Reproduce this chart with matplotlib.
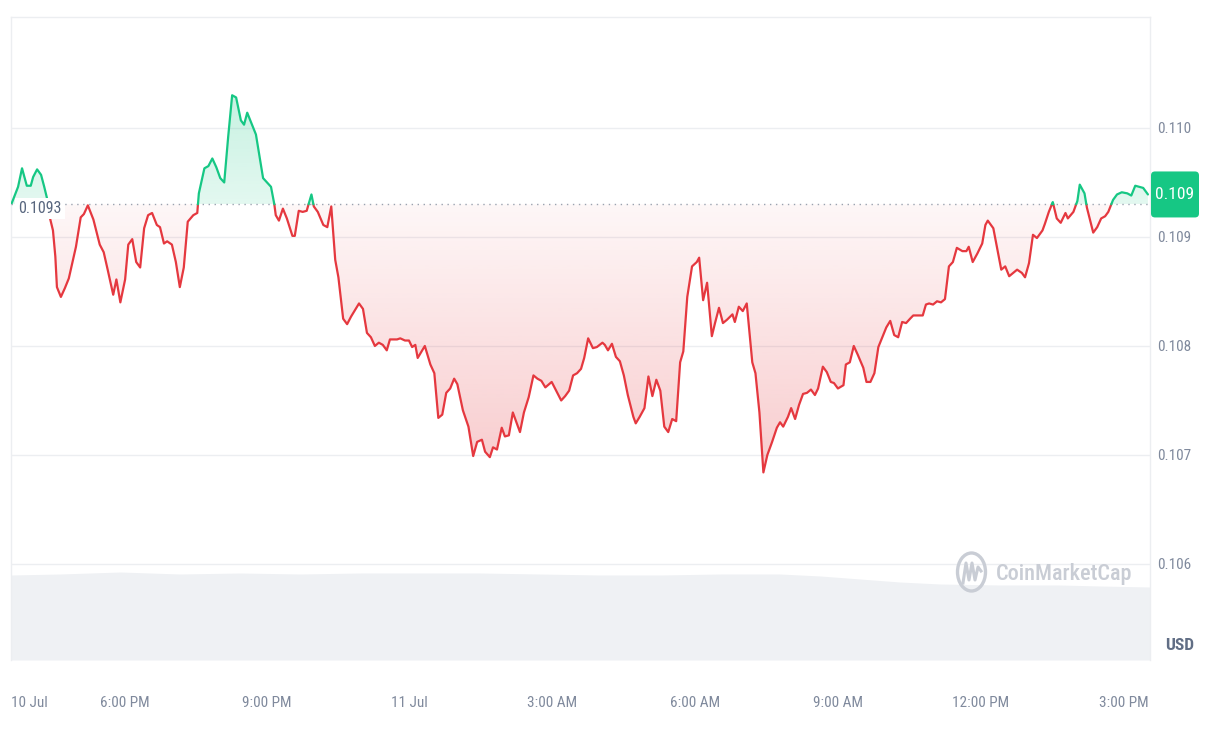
import numpy as np
import matplotlib
matplotlib.use('Agg')
import matplotlib.pyplot as plt
from matplotlib.patches import FancyBboxPatch, PathPatch, Ellipse
from matplotlib.transforms import blended_transform_factory, IdentityTransform
from matplotlib.lines import Line2D
import matplotlib.colors as mcolors

FONT = ['Roboto Condensed', 'Inter', 'DejaVu Sans']
plt.rcParams['font.family'] = FONT

# ---------------- data ----------------
# minutes since 10 Jul 00:00
minutes = [938,946,951,957,962,965,970,975,979,983,
           986,990,993,995,1000,1005,1010,1019,1025,1029,
           1034,1041,1049,1054,1059,1066,1070,1075,1081,1085,
           1090,1095,1100,1105,1110,1115,1121,1125,1130,1134,
           1140,1145,1150,1155,1160,1167,1172,1174,1181,1186,
           1191,1196,1201,1206,1211,1216,1221,1227,1231,1235,
           1241,1246,1255,1260,1265,1269,1271,1275,1280,1285,
           1292,1295,1300,1305,1310,1316,1319,1324,1331,1336,
           1341,1346,1350,1356,1361,1366,1371,1376,1381,1386,
           1391,1396,1401,1406,1411,1415,1424,1428,1434,1439,
           1443,1447,1450,1459,1466,1471,1476,1481,1486,1491,
           1496,1500,1507,1514,1520,1525,1531,1535,1541,1545,
           1550,1556,1560,1565,1570,1579,1584,1590,1596,1601,
           1606,1611,1619,1626,1631,1636,1641,1646,1651,1656,
           1660,1665,1671,1676,1683,1686,1690,1695,1700,1705,
           1710,1715,1722,1725,1730,1736,1741,1746,1751,1756,
           1761,1766,1771,1776,1781,1785,1790,1796,1802,1805,
           1810,1815,1821,1825,1830,1835,1840,1847,1850,1855,
           1860,1865,1872,1876,1881,1886,1891,1897,1903,1907,
           1911,1917,1921,1926,1931,1936,1941,1946,1951,1955,
           1961,1966,1971,1975,1980,1987,1990,1995,2000,2005,
           2012,2016,2021,2026,2031,2036,2041,2046,2051,2056,
           2061,2066,2071,2075,2081,2087,2091,2095,2100,2105,
           2110,2115,2120,2125,2130,2137,2142,2145,2150,2156,
           2162,2166,2169,2176,2180,2186,2191,2196,2201,2206,
           2212,2216,2221,2226,2231,2238,2241,2246,2251,2256,
           2261,2267,2270,2277,2282,2285,2291,2294,2302,2307,
           2312,2317,2321,2327,2332,2338,2345,2350,2355,2360,
           2365,2371]

prices = [0.10931,0.10946,0.10963,0.10947,0.10947,0.10955,0.10962,0.10957,0.10946,0.10934,
          0.10918,0.10906,0.10882,0.10854,0.10845,0.10853,0.10862,0.10891,0.10918,0.10921,
          0.10929,0.10916,0.10893,0.10886,0.10870,0.10847,0.10861,0.10840,0.10861,0.10893,
          0.10898,0.10877,0.10872,0.10908,0.10920,0.10922,0.10911,0.10909,0.10894,0.10896,
          0.10893,0.10877,0.10854,0.10872,0.10914,0.10920,0.10922,0.10940,0.10963,0.10965,
          0.10972,0.10964,0.10954,0.10950,0.10992,0.11030,0.11028,0.11007,0.11003,0.11014,
          0.11003,0.10994,0.10954,0.10950,0.10946,0.10931,0.10920,0.10915,0.10926,0.10917,
          0.10901,0.10901,0.10924,0.10923,0.10924,0.10939,0.10928,0.10923,0.10911,0.10909,
          0.10928,0.10879,0.10863,0.10825,0.10820,0.10827,0.10833,0.10839,0.10834,0.10812,
          0.10808,0.10800,0.10803,0.10801,0.10796,0.10806,0.10806,0.10807,0.10805,0.10805,
          0.10799,0.10801,0.10789,0.10800,0.10783,0.10775,0.10734,0.10737,0.10757,0.10761,
          0.10770,0.10765,0.10741,0.10726,0.10699,0.10712,0.10714,0.10703,0.10698,0.10707,
          0.10705,0.10725,0.10717,0.10718,0.10739,0.10721,0.10739,0.10753,0.10773,0.10770,
          0.10768,0.10762,0.10767,0.10757,0.10750,0.10754,0.10759,0.10773,0.10775,0.10779,
          0.10789,0.10807,0.10798,0.10799,0.10803,0.10801,0.10796,0.10802,0.10790,0.10786,
          0.10773,0.10755,0.10735,0.10729,0.10735,0.10743,0.10772,0.10754,0.10769,0.10759,
          0.10726,0.10721,0.10733,0.10731,0.10785,0.10795,0.10845,0.10873,0.10877,0.10881,
          0.10842,0.10858,0.10809,0.10821,0.10835,0.10821,0.10824,0.10829,0.10822,0.10836,
          0.10832,0.10839,0.10785,0.10775,0.10739,0.10684,0.10700,0.10712,0.10725,0.10730,
          0.10726,0.10735,0.10743,0.10733,0.10746,0.10756,0.10757,0.10760,0.10755,0.10761,
          0.10781,0.10776,0.10767,0.10766,0.10761,0.10764,0.10783,0.10785,0.10800,0.10792,
          0.10780,0.10767,0.10767,0.10775,0.10799,0.10808,0.10817,0.10823,0.10810,0.10808,
          0.10822,0.10821,0.10825,0.10828,0.10828,0.10828,0.10838,0.10839,0.10838,0.10841,
          0.10840,0.10843,0.10873,0.10877,0.10890,0.10887,0.10887,0.10891,0.10877,0.10885,
          0.10894,0.10911,0.10915,0.10908,0.10893,0.10870,0.10873,0.10864,0.10867,0.10870,
          0.10867,0.10863,0.10876,0.10902,0.10899,0.10906,0.10912,0.10923,0.10932,0.10917,
          0.10913,0.10922,0.10917,0.10923,0.10933,0.10948,0.10940,0.10927,0.10904,0.10909,
          0.10917,0.10919,0.10923,0.10934,0.10939,0.10941,0.10940,0.10938,0.10947,0.10946,
          0.10945,0.10939]

baseline_price = 0.1093
baseline_label = "0.1093"
last_label = "0.109"

vol_minutes = [937,999,1075,1150,1226,1302,1377,1453,1529,1604,1680,
               1756,1831,1907,1958,2008,2058,2109,2185,2260,2311,2374]
volume = [8.5,8.6,8.8,8.6,8.7,8.6,8.7,8.7,8.7,8.6,8.5,
          8.5,8.6,8.6,8.4,8.1,7.8,7.6,7.5,7.5,7.4,7.3]

xtick_hours = [16, 18, 21, 24, 27, 30, 33, 36, 39]
xtick_labels = ['10 Jul', '6:00 PM', '9:00 PM', '11 Jul', '3:00 AM',
                '6:00 AM', '9:00 AM', '12:00 PM', '3:00 PM']
ytick_values = [0.106, 0.107, 0.108, 0.109, 0.110]
ytick_labels = ['0.106', '0.107', '0.108', '0.109', '0.110']

# ---------------- style ----------------
RED = '#e5383f'
GREEN = '#16c784'
GRID = '#eceef1'
TXT = '#808a9d'

W, H = 1220, 740
L, R, T, B = 11, 1150, 17, 660
fig = plt.figure(figsize=(W / 100, H / 100), dpi=100)
fig.patch.set_facecolor('white')
rect = [L / W, 1 - B / H, (R - L) / W, (B - T) / H]

t = np.array(minutes) / 60.0
p = np.array(prices)
xlim = (15.618, 39.56)
ylim = (0.105119, 0.111018)

# volume axes (behind)
axv = fig.add_axes(rect, zorder=1)
axv.fill_between(np.array(vol_minutes) / 60.0, 0, volume, color='#eff1f4', lw=0)
axv.set_xlim(*xlim)
axv.set_ylim(0, 64.3)
axv.axis('off')

ax = fig.add_axes(rect, zorder=2)
ax.patch.set_visible(False)
ax.set_xlim(*xlim)
ax.set_ylim(*ylim)

# split series at baseline crossings
tt, pp = [t[0]], [p[0]]
for i in range(1, len(t)):
    a, b = p[i - 1] - baseline_price, p[i] - baseline_price
    if a * b < 0:
        f = a / (a - b)
        tt.append(t[i - 1] + f * (t[i] - t[i - 1]))
        pp.append(baseline_price)
    tt.append(t[i])
    pp.append(p[i])
tt = np.array(tt)
pp = np.array(pp)


def grad_fill(lo, hi, color, a_near, a_far, near_val, far_val, ymin, ymax):
    coll = ax.fill_between(tt, lo, hi, facecolor='none', edgecolor='none')
    path = coll.get_paths()[0]
    patch = PathPatch(path, transform=ax.transData, facecolor='none', edgecolor='none')
    ax.add_patch(patch)
    n = 256
    vals = np.linspace(ymin, ymax, n)
    frac = np.clip((vals - near_val) / (far_val - near_val), 0, 1)
    alpha = a_near + (a_far - a_near) * frac
    img = np.zeros((n, 1, 4))
    img[..., :3] = mcolors.to_rgb(color)
    img[..., 3] = alpha[:, None]
    im = ax.imshow(img, extent=[tt[0], tt[-1], ymin, ymax], origin='lower',
                   aspect='auto', interpolation='bilinear', zorder=1)
    im.set_clip_path(patch)


grad_fill(np.full_like(pp, baseline_price), np.minimum(pp, baseline_price), RED,
          0.04, 0.26, baseline_price, pp.min(), pp.min(), baseline_price)
grad_fill(np.full_like(pp, baseline_price), np.maximum(pp, baseline_price), GREEN,
          0.12, 0.24, baseline_price, pp.max(), baseline_price, pp.max())
ax.set_xlim(*xlim)
ax.set_ylim(*ylim)

# grid
for v in ytick_values:
    ax.axhline(v, color=GRID, lw=1, zorder=0)
for s in ['top', 'left', 'right']:
    ax.spines[s].set_color(GRID)
    ax.spines[s].set_linewidth(1)
ax.spines['bottom'].set_visible(False)

# baseline
ax.axhline(baseline_price, color='#9aa3b0', lw=1, ls=(0, (1, 3.3)), zorder=3)

# price line
ax.plot(tt, np.where(pp <= baseline_price, pp, np.nan), color=RED, lw=1.6,
        zorder=4, solid_joinstyle='round', solid_capstyle='round')
ax.plot(tt, np.where(pp >= baseline_price, pp, np.nan), color=GREEN, lw=1.6,
        zorder=4, solid_joinstyle='round', solid_capstyle='round')

# ticks
ax.yaxis.tick_right()
ax.set_yticks(ytick_values, ytick_labels)
ax.tick_params(axis='y', length=0, pad=5, labelcolor=TXT, labelsize=11)
ax.set_xticks(xtick_hours, xtick_labels)
ax.tick_params(axis='x', length=0, pad=26, labelcolor=TXT, labelsize=11)

# baseline label
blend = blended_transform_factory(ax.transAxes, ax.transData)
ax.annotate(baseline_label, xy=(0, baseline_price), xycoords=blend,
            xytext=(5, -3), textcoords='offset points', ha='left', va='center',
            color='#58667e', fontsize=11.5,
            bbox=dict(boxstyle='square,pad=0.2', fc='white', ec='none'), zorder=6)

# current price tag
fig.canvas.draw()
yd = ax.transData.transform((t[-1], p[-1]))[1]
xd = ax.transAxes.transform((1, 0))[0]
fig.add_artist(FancyBboxPatch((xd + 1, yd - 23), 48, 46,
                              boxstyle='round,pad=0,rounding_size=4',
                              transform=IdentityTransform(), fc=GREEN, ec='none', zorder=5))
fig.text(xd + 25, yd, last_label, transform=IdentityTransform(), ha='center', va='center',
         color='white', fontsize=12.5, zorder=6)

# USD label
fig.text(1180 / W, 1 - 645 / H, 'USD', ha='center', va='center', fontweight='bold',
         color='#616e85', fontsize=12.5)

# watermark
WM = '#c9cdd5'
fig.add_artist(Ellipse((971.5 / W, 1 - 572 / H), 28 / W, 38 / H, fill=False, ec=WM, lw=2.4,
                       transform=fig.transFigure, zorder=3))
mx = np.array([963, 966, 969, 972, 975, 978, 981]) / W
my = 1 - np.array([583, 563, 580, 563, 580, 567, 571]) / H
fig.add_artist(Line2D(mx, my, color=WM, lw=2.2, transform=fig.transFigure, zorder=3,
                      solid_joinstyle='round'))
fig.text(996 / W, 1 - 574 / H, 'CoinMarketCap', ha='left', va='center', fontsize=16,
         color=WM, fontweight='medium', zorder=3)

fig.savefig('out.png', dpi=100, facecolor='white')
